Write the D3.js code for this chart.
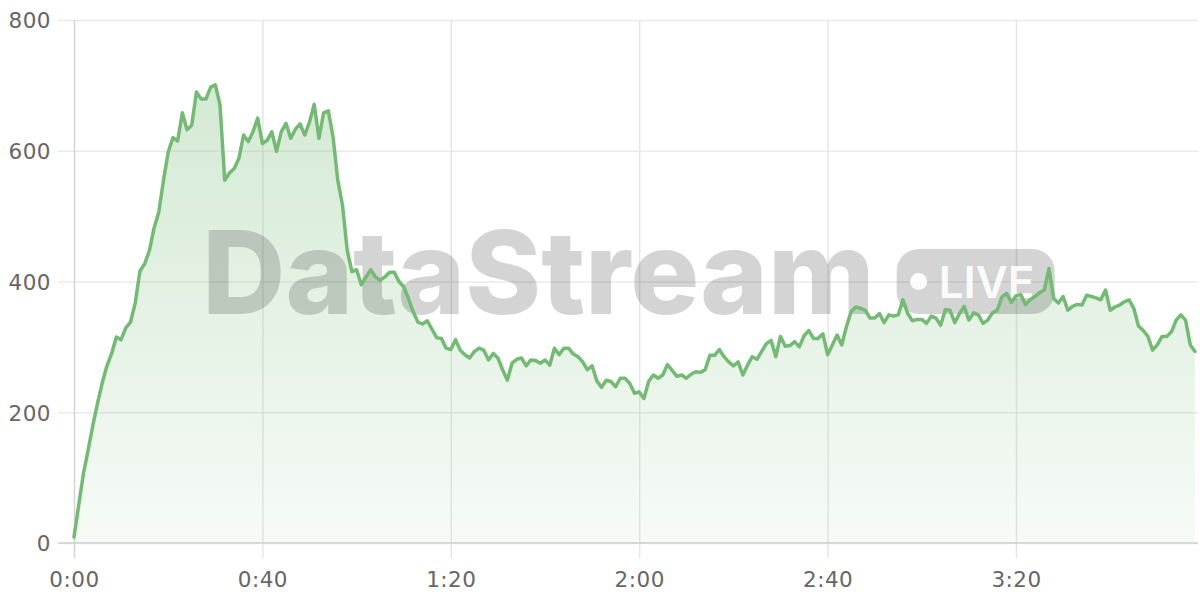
<!DOCTYPE html>
<html>
<head>
<meta charset="utf-8">
<script src="https://cdn.jsdelivr.net/npm/d3@7"></script>
<style>
  html, body { margin: 0; padding: 0; background: #ffffff; }
  svg { display: block; }
</style>
</head>
<body>
<svg id="chart" width="1200" height="600"></svg>
<script>
// ---- data (one sample per second, starting at 0:00) ----
const values = [
  9, 58, 106, 142, 180, 214, 245, 271, 290, 315,
  311, 329, 338, 367, 416, 427, 447, 482, 506, 555,
  598, 620, 615, 658, 632, 639, 690, 679, 679, 697,
  701, 670, 555, 566, 573, 588, 624, 614, 629, 650,
  611, 616, 629, 599, 629, 642, 619, 633, 641, 624,
  644, 671, 619, 658, 661, 621, 555, 517, 448, 415,
  418, 395, 407, 418, 407, 402, 407, 414, 414, 400,
  392, 374, 354, 338, 335, 340, 327, 314, 313, 298,
  296, 311, 295, 288, 283, 293, 298, 295, 280, 290,
  283, 265, 249, 275, 281, 283, 271, 280, 279, 275,
  280, 272, 298, 288, 298, 298, 289, 285, 277, 265,
  271, 248, 238, 249, 247, 239, 252, 252, 244, 229,
  231, 221, 247, 257, 252, 257, 273, 264, 255, 257,
  252, 258, 262, 261, 265, 287, 287, 296, 285, 277,
  271, 277, 257, 272, 285, 281, 293, 305, 310, 285,
  316, 301, 302, 308, 300, 317, 325, 313, 313, 320,
  288, 303, 318, 303, 331, 354, 361, 359, 356, 344,
  344, 351, 337, 349, 347, 349, 372, 351, 340, 342,
  342, 336, 347, 344, 333, 357, 356, 337, 351, 362,
  341, 352, 349, 336, 341, 352, 356, 376, 382, 368,
  378, 380, 365, 372, 377, 383, 387, 420, 374, 367,
  377, 356, 362, 365, 364, 379, 377, 375, 372, 387,
  356, 361, 364, 369, 372, 359, 332, 325, 316, 295,
  303, 316, 316, 323, 341, 349, 341, 303, 293
];
const xTickValues = [0, 40, 80, 120, 160, 200];
const xTickLabels = ["0:00", "0:40", "1:20", "2:00", "2:40", "3:20"];
const yTickValues = [0, 200, 400, 600, 800];
const watermarkText = "DataStream";
const badgeText = "LIVE";

// ---- layout ----
const svg = d3.select("#chart");
const plot = { left: 74, right: 1195, top: 20, bottom: 543, gridRight: 1198 };
const lineColor = "#74ba74";

const data = values.map((v, i) => ({ t: i, v: v }));

const x = d3.scaleLinear().domain([0, values.length - 1]).range([plot.left, plot.right]);
const y = d3.scaleLinear().domain([0, 800]).range([plot.bottom, plot.top]);

const defs = svg.append("defs");
const grad = defs.append("linearGradient")
  .attr("id", "areaGrad")
  .attr("gradientUnits", "userSpaceOnUse")
  .attr("x1", 0).attr("x2", 0)
  .attr("y1", y(720)).attr("y2", y(0));
grad.append("stop").attr("offset", "0%").attr("stop-color", lineColor).attr("stop-opacity", 0.32);
grad.append("stop").attr("offset", "100%").attr("stop-color", lineColor).attr("stop-opacity", 0.06);

const fontFamily = "'DejaVu Sans', 'Liberation Sans', sans-serif";

// ---- horizontal grid + y labels ----
const yAxis = d3.axisLeft(y)
  .tickValues(yTickValues)
  .tickSize(-(plot.gridRight - plot.left))
  .tickPadding(8)
  .tickFormat(d3.format("d"));
const gy = svg.append("g")
  .attr("transform", `translate(${plot.left},0)`)
  .call(yAxis);
gy.select(".domain").remove();
gy.selectAll(".tick line")
  .attr("x1", -16)
  .attr("stroke", "#ebebeb")
  .attr("stroke-width", 1.5);
gy.selectAll(".tick text")
  .attr("x", -23)
  .attr("dy", "0.36em")
  .attr("fill", "#666666")
  .style("font-family", fontFamily)
  .style("font-size", "21.5px")
  .style("letter-spacing", "0.5px");

// ---- vertical grid + x labels ----
const xAxis = d3.axisBottom(x)
  .tickValues(xTickValues)
  .tickSize(-(plot.bottom - plot.top))
  .tickFormat((d, i) => xTickLabels[i]);
const gx = svg.append("g")
  .attr("transform", `translate(0,${plot.bottom})`)
  .call(xAxis);
gx.select(".domain").remove();
gx.selectAll(".tick line")
  .attr("y2", 15)
  .attr("y1", -(plot.bottom - plot.top))
  .attr("stroke", (d) => d === 0 ? "#d4d4d4" : "#e6e6e6")
  .attr("stroke-width", 1.5);
gx.selectAll(".tick text")
  .attr("y", 44)
  .attr("dy", 0)
  .attr("fill", "#666666")
  .style("font-family", fontFamily)
  .style("font-size", "21.5px")
  .style("letter-spacing", "0.5px");

// bottom axis line
svg.append("line")
  .attr("x1", plot.left - 16).attr("x2", plot.gridRight)
  .attr("y1", y(0)).attr("y2", y(0))
  .attr("stroke", "#d0d0d0").attr("stroke-width", 1.5);

// ---- area ----
const area = d3.area()
  .x(d => x(d.t))
  .y0(y(0))
  .y1(d => y(d.v));
svg.append("path")
  .datum(data)
  .attr("d", area)
  .attr("fill", "url(#areaGrad)");

// ---- watermark ----
const wm = svg.append("g").attr("class", "watermark");
const cx = (plot.left + plot.right) / 2 - 6;
const cy = (plot.top + plot.bottom) / 2;
const wmText = wm.append("text")
  .text(watermarkText)
  .attr("x", 0)
  .attr("y", cy + 32)
  .attr("fill", "rgba(0,0,0,0.17)")
  .style("font-family", "Inter, 'Liberation Sans', sans-serif")
  .style("font-weight", 800)
  .style("font-size", "115px")
  .style("letter-spacing", "0px");
const textW = wmText.node().getComputedTextLength();
const badgeW = 158, badgeH = 65, gap = 22;
const totalW = textW + gap + badgeW;
const startX = cx - totalW / 2;
wmText.attr("x", startX);
const bx = startX + textW + gap;
wm.append("rect")
  .attr("x", bx).attr("y", cy - badgeH / 2)
  .attr("width", badgeW).attr("height", badgeH)
  .attr("rx", 22).attr("ry", 22)
  .attr("fill", "rgba(0,0,0,0.17)");
wm.append("circle")
  .attr("cx", bx + 22).attr("cy", cy)
  .attr("r", 8.5)
  .attr("fill", "rgba(255,255,255,0.92)");
wm.append("text")
  .text(badgeText)
  .attr("x", bx + 42)
  .attr("y", cy + 16)
  .attr("fill", "rgba(255,255,255,0.92)")
  .style("font-family", "Inter, 'Liberation Sans', sans-serif")
  .style("font-weight", 600)
  .style("font-size", "44px");

// ---- line ----
const line = d3.line()
  .x(d => x(d.t))
  .y(d => y(d.v));
svg.append("path")
  .datum(data)
  .attr("d", line)
  .attr("fill", "none")
  .attr("stroke", lineColor)
  .attr("stroke-width", 3.5)
  .attr("stroke-linejoin", "round")
  .attr("stroke-linecap", "round");
</script>
</body>
</html>
